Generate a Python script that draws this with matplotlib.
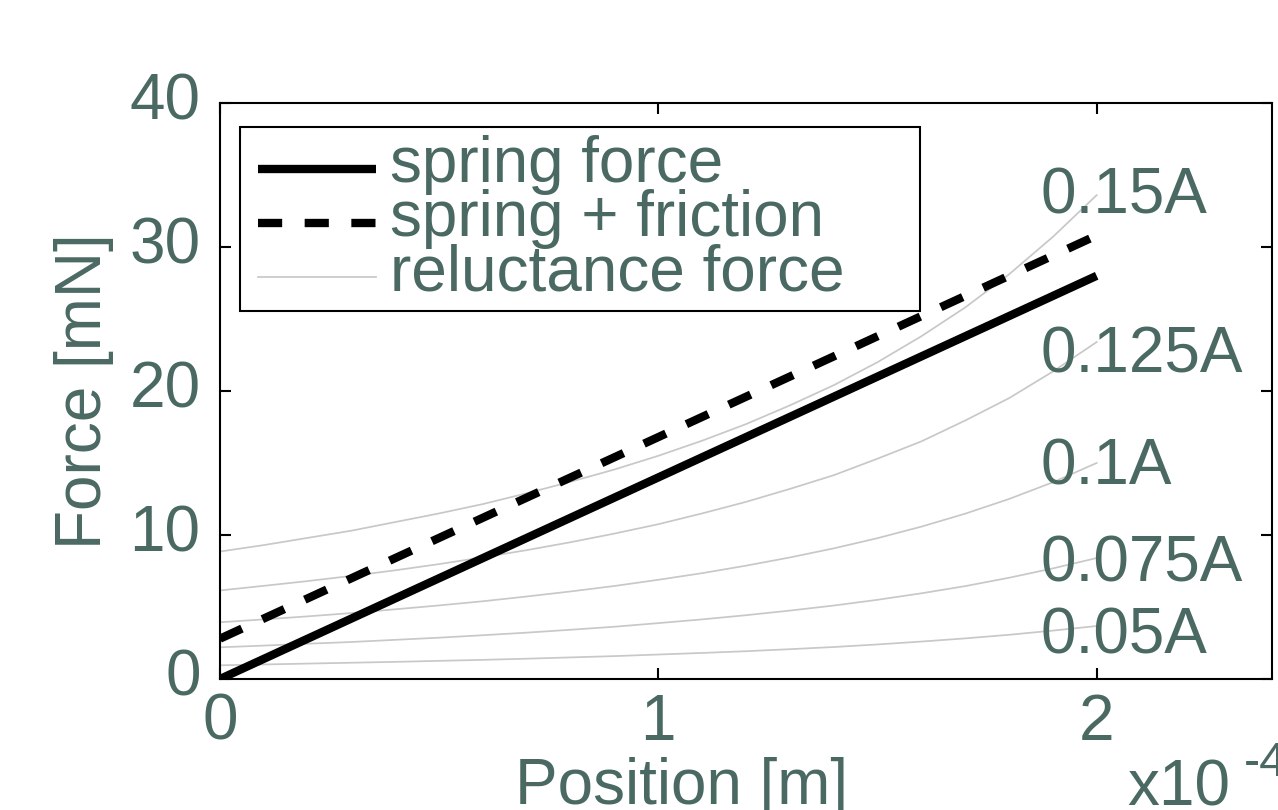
import numpy as np
import matplotlib
matplotlib.use('Agg')
import matplotlib.pyplot as plt
from matplotlib.ticker import FixedLocator, FuncFormatter
from matplotlib.transforms import ScaledTranslation

plt.rcParams['font.family'] = ['Liberation Sans', 'DejaVu Sans']

# position along the stroke [m]
position = np.arange(21) * 0.1e-4

# spring line end points [m] and force [mN]
spring_pos = np.array([0.0, 2.0]) * 1e-4
spring_force = [0.0, 28.0]
spring_friction = [2.8, 30.8]

# reluctance force [mN] for each coil current
currents = ['0.15A', '0.125A', '0.1A', '0.075A', '0.05A']
f_015 = [8.85, 9.3, 9.8, 10.3, 10.9, 11.5, 12.15, 12.9, 13.7, 14.55, 15.5,
         16.55, 17.7, 19.0, 20.4, 22.0, 23.8, 25.8, 28.1, 30.7, 33.6]
f_0125 = [6.15, 6.47, 6.8, 7.16, 7.55, 7.98, 8.45, 8.95, 9.5, 10.1, 10.75,
          11.5, 12.3, 13.2, 14.15, 15.3, 16.5, 17.95, 19.5, 21.35, 23.4]
f_010 = [3.94, 4.14, 4.35, 4.58, 4.84, 5.11, 5.4, 5.73, 6.08, 6.46, 6.89,
         7.35, 7.87, 8.44, 9.07, 9.78, 10.58, 11.48, 12.5, 13.66, 15.0]
f_0075 = [2.2, 2.32, 2.45, 2.57, 2.72, 2.87, 3.04, 3.22, 3.42, 3.63, 3.88,
          4.14, 4.43, 4.75, 5.1, 5.5, 5.95, 6.45, 7.03, 7.68, 8.4]
f_005 = [0.95, 1.01, 1.07, 1.13, 1.19, 1.26, 1.33, 1.41, 1.5, 1.59, 1.7,
         1.81, 1.93, 2.07, 2.22, 2.4, 2.6, 2.82, 3.07, 3.36, 3.68]
reluctance = [f_015, f_0125, f_010, f_0075, f_005]

# where the current labels sit (baseline, mN)
label_x = 1.872e-4
label_y = [32.35, 21.29, 13.5, 6.75, 1.74]

txt_color = '#4b6963'
grey = '#c8c8c8'
fs = 46

fig = plt.figure(figsize=(12.78, 8.1), dpi=100)
ax = fig.add_axes([220 / 1278, 131 / 810, 1052 / 1278, 576 / 810])

rel_lines = []
for f in reluctance:
    l, = ax.plot(position, f, color=grey, lw=1.25)
    rel_lines.append(l)

h_spring, = ax.plot(spring_pos, spring_force, color='black', lw=6, solid_capstyle='butt')
h_fric, = ax.plot(spring_pos, spring_friction, color='black', lw=6,
                  linestyle=(0, (2.9, 2.7)), dash_capstyle='butt')

for name, y in zip(currents, label_y):
    ax.text(label_x, y, name, fontsize=fs, color=txt_color, ha='left', va='baseline')

ax.set_xlim(0, 2.4e-4)
ax.set_ylim(0, 40)
ax.xaxis.set_major_locator(FixedLocator([0, 1e-4, 2e-4]))
ax.xaxis.set_major_formatter(FuncFormatter(lambda v, p: '%d' % round(v * 1e4)))
ax.yaxis.set_major_locator(FixedLocator([0, 10, 20, 30, 40]))

ax.tick_params(direction='in', length=8, width=1.5, top=True, right=True,
               labelsize=fs, labelcolor=txt_color, color='black')
ax.tick_params(axis='x', pad=10)
ax.tick_params(axis='y', pad=14)
for s in ax.spines.values():
    s.set_linewidth(1.5)

# y tick labels sit a little above their ticks
shift = ScaledTranslation(0, 7 / 100, fig.dpi_scale_trans)
for t in ax.yaxis.get_major_ticks():
    t.label1.set_transform(t.label1.get_transform() + shift)

ax.set_ylabel('Force [mN]', fontsize=fs, color=txt_color)
ax.yaxis.set_label_coords(-0.1008, 0.5)
ax.set_xlabel('Position [m]', fontsize=fs, color=txt_color)
ax.xaxis.set_label_coords(0.439, -0.1354)

# exponent of the x axis
fig.text(1127 / 1278, 5 / 810, 'x10', fontsize=fs, color=txt_color, ha='left', va='baseline')
fig.text(1244 / 1278, 34 / 810, '-4', fontsize=35, color=txt_color, ha='left', va='baseline')

leg = ax.legend([h_spring, h_fric, rel_lines[0]],
                ['spring force', 'spring + friction', 'reluctance force'],
                loc='upper left', bbox_to_anchor=(0.019, 0.958, 0.646, 0), mode='expand',
                borderaxespad=0, fontsize=fs, handlelength=1.85, handletextpad=0.38,
                labelspacing=-0.09, borderpad=0.12, fancybox=False,
                edgecolor='black', framealpha=1)
leg.get_frame().set_linewidth(1.5)
for t in leg.get_texts():
    t.set_color(txt_color)
# nudge the handle lines down toward the x-height and right a little
for h in leg.legend_handles:
    h.set_xdata(np.asarray(h.get_xdata()) + 7.5)
    h.set_ydata(np.asarray(h.get_ydata()) - 6.8)

fig.savefig('out.png', dpi=100)
